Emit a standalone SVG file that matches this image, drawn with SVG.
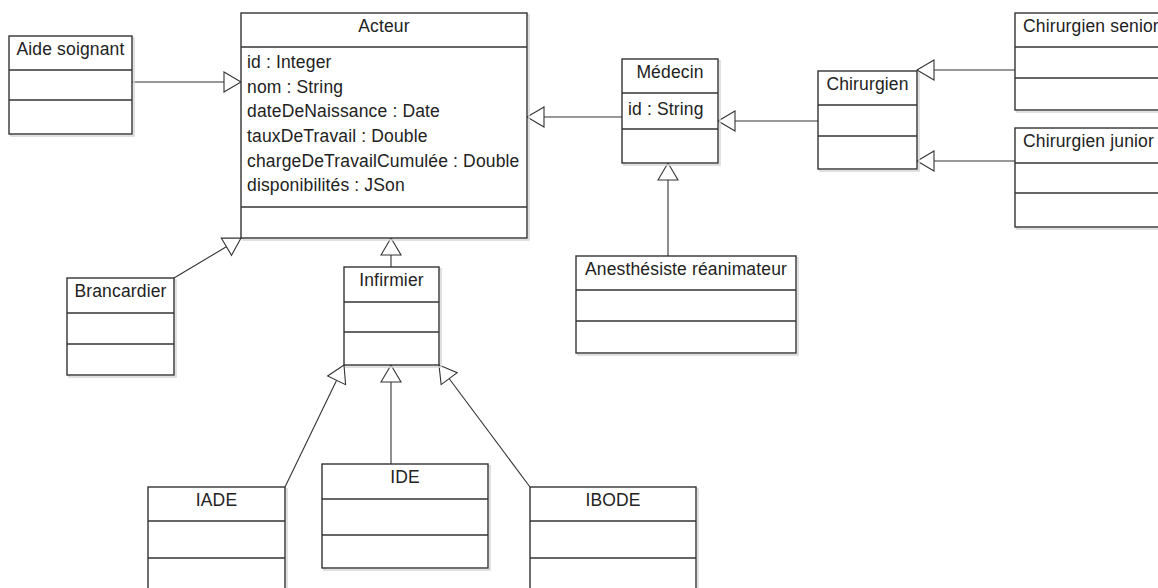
<svg xmlns="http://www.w3.org/2000/svg" width="1158" height="588" viewBox="0 0 1158 588">
<style>
.box{fill:#fff;stroke:#333;stroke-width:1.4}
.shadow{fill:none;stroke:#d6d6d6;stroke-width:1.5}
.div{stroke:#333;stroke-width:1.4}
.t{font-family:"Liberation Sans",Arial,sans-serif;font-size:17.5px;fill:#222;letter-spacing:0.15px}
.c{text-anchor:middle}
.conn{stroke:#333;stroke-width:1.1;fill:none;marker-end:url(#gen)}
</style>
<defs>
<marker id="gen" markerUnits="userSpaceOnUse" markerWidth="19" markerHeight="22" viewBox="-1 -1 19 22" refX="17" refY="10" orient="auto" overflow="visible">
<path d="M0,0 L17,10 L0,20 Z" fill="#fff" stroke="#333" stroke-width="1.1"/>
</marker>
</defs>
<rect width="1158" height="588" fill="#fff"/>

<g id="connectors">
<line class="conn" x1="132" y1="82" x2="241" y2="82"/>
<line class="conn" x1="622" y1="117" x2="527" y2="117"/>
<line class="conn" x1="818" y1="121" x2="718" y2="121"/>
<line class="conn" x1="1015" y1="70" x2="917" y2="70"/>
<line class="conn" x1="1015" y1="161" x2="917" y2="161"/>
<line class="conn" x1="668" y1="256" x2="668" y2="163"/>
<line class="conn" x1="174" y1="278" x2="241" y2="238"/>
<line class="conn" x1="391" y1="267" x2="391" y2="238"/>
<line class="conn" x1="285" y1="487" x2="344" y2="365"/>
<line class="conn" x1="391" y1="464" x2="391" y2="365"/>
<line class="conn" x1="530" y1="487" x2="439" y2="365"/>
</g>

<g id="aide-soignant">
<rect class="shadow" x="11" y="38" width="123" height="98"/>
<rect class="box" x="9" y="36" width="123" height="98"/>
<line class="div" x1="9" y1="70" x2="132" y2="70"/>
<line class="div" x1="9" y1="100" x2="132" y2="100"/>
<text class="t c" x="70.5" y="55">Aide soignant</text>
</g>

<g id="acteur">
<rect class="shadow" x="243" y="15" width="286" height="225"/>
<rect class="box" x="241" y="13" width="286" height="225"/>
<line class="div" x1="241" y1="47" x2="527" y2="47"/>
<line class="div" x1="241" y1="207" x2="527" y2="207"/>
<text class="t c" x="384" y="32">Acteur</text>
<text class="t" x="247" y="68">id : Integer</text>
<text class="t" x="247" y="93">nom : String</text>
<text class="t" x="247" y="117">dateDeNaissance : Date</text>
<text class="t" x="247" y="142">tauxDeTravail : Double</text>
<text class="t" x="247" y="167">chargeDeTravailCumulée : Double</text>
<text class="t" x="247" y="191">disponibilités : JSon</text>
</g>

<g id="medecin">
<rect class="shadow" x="624" y="61" width="96" height="104"/>
<rect class="box" x="622" y="59" width="96" height="104"/>
<line class="div" x1="622" y1="93" x2="718" y2="93"/>
<line class="div" x1="622" y1="129" x2="718" y2="129"/>
<text class="t c" x="670" y="78">Médecin</text>
<text class="t" x="628" y="115">id : String</text>
</g>

<g id="chirurgien">
<rect class="shadow" x="820" y="73" width="99" height="98"/>
<rect class="box" x="818" y="71" width="99" height="98"/>
<line class="div" x1="818" y1="105" x2="917" y2="105"/>
<line class="div" x1="818" y1="136" x2="917" y2="136"/>
<text class="t c" x="867.5" y="90">Chirurgien</text>
</g>

<g id="chirurgien-senior">
<rect class="shadow" x="1017" y="15" width="160" height="97"/>
<rect class="box" x="1015" y="13" width="160" height="97"/>
<line class="div" x1="1015" y1="47" x2="1175" y2="47"/>
<line class="div" x1="1015" y1="78" x2="1175" y2="78"/>
<text class="t" x="1023" y="32">Chirurgien senior</text>
</g>

<g id="chirurgien-junior">
<rect class="shadow" x="1017" y="130" width="160" height="99"/>
<rect class="box" x="1015" y="128" width="160" height="99"/>
<line class="div" x1="1015" y1="163" x2="1175" y2="163"/>
<line class="div" x1="1015" y1="193" x2="1175" y2="193"/>
<text class="t" x="1023" y="147">Chirurgien junior</text>
</g>

<g id="brancardier">
<rect class="shadow" x="69" y="280" width="107" height="97"/>
<rect class="box" x="67" y="278" width="107" height="97"/>
<line class="div" x1="67" y1="313" x2="174" y2="313"/>
<line class="div" x1="67" y1="344" x2="174" y2="344"/>
<text class="t c" x="120.5" y="297">Brancardier</text>
</g>

<g id="infirmier">
<rect class="shadow" x="346" y="269" width="95" height="98"/>
<rect class="box" x="344" y="267" width="95" height="98"/>
<line class="div" x1="344" y1="302" x2="439" y2="302"/>
<line class="div" x1="344" y1="332" x2="439" y2="332"/>
<text class="t c" x="391.5" y="286">Infirmier</text>
</g>

<g id="anesthesiste">
<rect class="shadow" x="578" y="258" width="220" height="97"/>
<rect class="box" x="576" y="256" width="220" height="97"/>
<line class="div" x1="576" y1="290" x2="796" y2="290"/>
<line class="div" x1="576" y1="321" x2="796" y2="321"/>
<text class="t c" x="686" y="275">Anesthésiste réanimateur</text>
</g>

<g id="iade">
<rect class="shadow" x="150" y="489" width="137" height="110"/>
<rect class="box" x="148" y="487" width="137" height="110"/>
<line class="div" x1="148" y1="521" x2="285" y2="521"/>
<line class="div" x1="148" y1="558" x2="285" y2="558"/>
<text class="t c" x="216.5" y="506">IADE</text>
</g>

<g id="ide">
<rect class="shadow" x="324" y="466" width="166" height="104"/>
<rect class="box" x="322" y="464" width="166" height="104"/>
<line class="div" x1="322" y1="499" x2="488" y2="499"/>
<line class="div" x1="322" y1="535" x2="488" y2="535"/>
<text class="t c" x="405" y="483">IDE</text>
</g>

<g id="ibode">
<rect class="shadow" x="532" y="489" width="166" height="110"/>
<rect class="box" x="530" y="487" width="166" height="110"/>
<line class="div" x1="530" y1="521" x2="696" y2="521"/>
<line class="div" x1="530" y1="558" x2="696" y2="558"/>
<text class="t c" x="613" y="506">IBODE</text>
</g>
</svg>
